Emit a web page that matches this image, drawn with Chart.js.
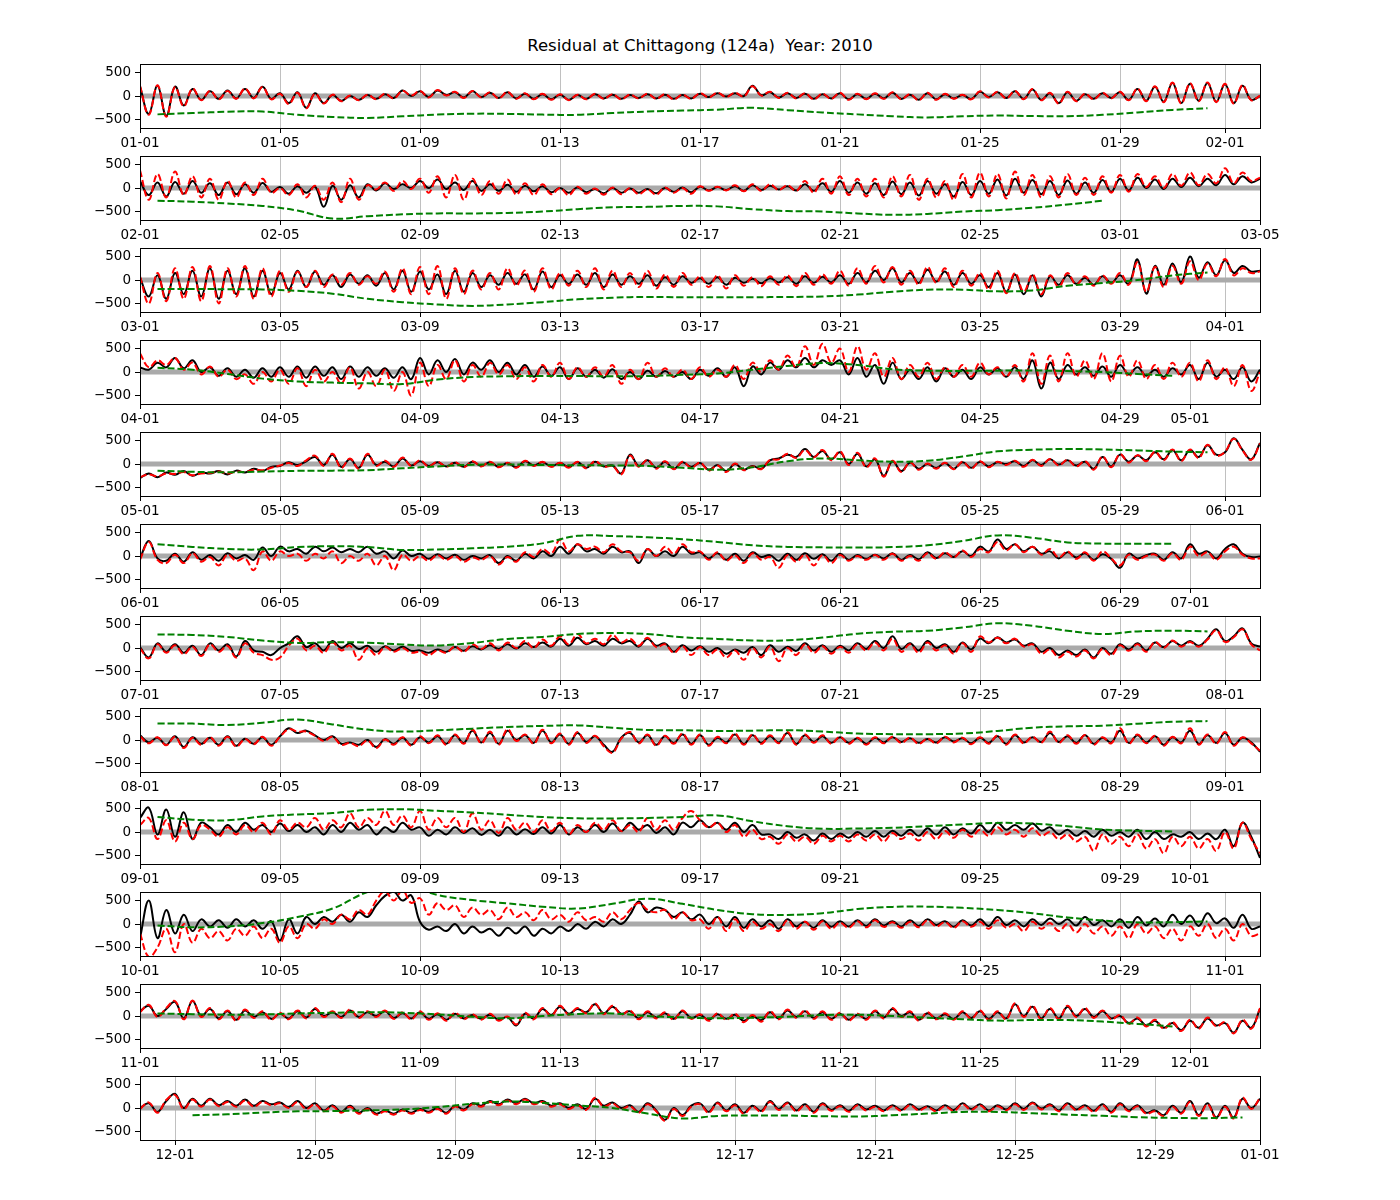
<!DOCTYPE html>
<html>
<head>
<meta charset="utf-8">
<script src="https://cdn.jsdelivr.net/npm/chart.js@4.4.1/dist/chart.umd.min.js"></script>
<style>
html,body{margin:0;padding:0;background:#fff;}
#fig{position:relative;width:1400px;height:1200px;background:#fff;overflow:hidden;}
#title{position:absolute;left:140px;width:1120px;top:36px;text-align:center;font-family:"DejaVu Sans",sans-serif;font-size:16.5px;color:#000;white-space:pre;line-height:20px;}
canvas{position:absolute;left:0;}
</style>
</head>
<body>
<div id="fig"><div id="title">Residual at Chittagong (124a)  Year: 2010</div></div>
<script>
// ---- panel start dates (each panel spans 32 days, samples every 6 hours) ----
const panelStarts = ["2010-01-01","2010-02-01","2010-03-01","2010-04-01","2010-05-01","2010-06-01","2010-07-01","2010-08-01","2010-09-01","2010-10-01","2010-11-01","2010-11-30"];
const tickDays = [1,5,9,13,17,21,25,29];
const yTickValues = [-500,0,500];
const yTickLabels = ["\u2212500","0","500"];
const greenStartDay = [0.5,0.5,0.5,0.5,0.5,0.5,0.5,0.5,0.5,0.5,0.5,1.5];

// ---- January ----
const janBlack = [200,-380,220,-420, 200,-200,150,-80, 100,-60,120,-50, 150,-40,200,-60, 60,-150,80,-250, 60,-150,20,-100, 0,-80,20,-60, 40,-40,120,0, 100,-20,120,20, 80,-30,100,-20, 70,-40,80,-50, 50,-60,40,-70, 30,-80,20,-60, 40,-50,30,-60, 20,-40,40,-50, 30,-60,20,-50, 50,-20,60,-10, 60,0,220,20, 80,-30,60,-40, 50,-60,40,-50, 60,-70,40,-60, 50,-50,70,-60, 30,-80,60,-70, 40,-50,20,-60, 90,-20,80,-40, 100,-60,140,-80, 60,-150,80,-100, 40,-60,60,-40, 80,-80,150,-100, 200,-120,280,-150, 260,-100,280,-120, 250,-150,220,-80, 0];
const janRed = [220,-400,230,-440, 190,-220,160,-90, 110,-70,110,-60, 160,-50,190,-70, 50,-170,70,-260, 50,-160,30,-110, 10,-90,30,-70, 50,-50,110,10, 110,-30,130,10, 90,-40,110,-30, 80,-50,90,-60, 60,-70,50,-80, 40,-90,30,-70, 50,-60,40,-70, 30,-50,50,-60, 40,-70,30,-60, 60,-30,70,-20, 70,-10,210,10, 90,-40,70,-50, 60,-70,50,-60, 70,-80,50,-70, 60,-60,80,-70, 40,-90,70,-80, 50,-60,30,-70, 100,-30,90,-50, 110,-70,150,-90, 70,-160,90,-110, 50,-70,70,-50, 90,-90,160,-110, 210,-130,290,-160, 270,-110,290,-130, 260,-160,230,-90, 10];
const janGreen = [-390,-360,-335,-330,-400,-445,-465,-430,-395,-375,-380,-395,-400,-360,-330,-310,-290,-250,-300,-350,-390,-430,-455,-430,-415,-425,-430,-400,-350,-295,-260];

// ---- February ----
const febBlack = [150,-150,120,-180, 130,-120,150,-100, 100,-150,120,-130, 80,-100,110,-80, 20,-120,40,-100, 30,-400,50,-250, 60,-200,80,-50, 100,-20,80,0, 150,0,180,-20, 120,-40,150,-60, 80,-60,70,-80, 50,-70,40,-90, 0,-100,10,-90, -20,-110,0,-100, -10,-100,-20,-110, 0,-80,10,-90, 30,-50,20,-40, 40,-60,60,-40, 50,-30,40,-50, 80,-60,100,-80, 150,-100,120,-120, 100,-150,140,-130, 120,-160,150,-120, 80,-180,130,-150, 150,-120,180,-160, 200,-100,170,-130, 150,-150,160,-120, 120,-100,170,-80, 200,-50,220,0, 180,-20,200,20, 220,40,200,60, 280,80,250,120, 200];
const febRed = [380,-250,300,-200, 350,-150,250,-200, 200,-250,150,-200, 120,-150,200,-100, 0,-150,80,-200, 50,-250,120,-300, 200,-250,60,-30, 120,-60,150,-20, 200,-100,250,-200, 280,-250,200,-150, 150,-120,180,-140, 100,-150,80,-130, 0,-150,30,-120, -10,-140,10,-130, 0,-130,-30,-140, 10,-100,0,-120, 40,-60,30,-50, 60,-70,80,-60, 80,-40,60,-60, 150,-100,200,-120, 250,-150,200,-180, 200,-200,250,-180, 280,-250,200,-200, 150,-250,300,-200, 330,-180,300,-220, 350,-150,280,-200, 250,-200,300,-150, 220,-150,250,-100, 280,-80,300,20, 250,0,300,50, 330,60,300,100, 420,100,330,150, 220];
const febGreen = [-270,-290,-330,-380,-480,-650,-600,-560,-540,-540,-530,-500,-450,-410,-400,-380,-390,-450,-490,-500,-540,-570,-550,-500,-470,-420,-350,-270];

// ---- March ----
const marBlack = [50,-350,100,-400, 150,-300,200,-350, 250,-400,200,-300, 250,-350,200,-300, 150,-200,200,-150, 180,-100,100,-150, 120,-80,100,-120, 150,-200,200,-250, 180,-200,120,-300, 200,-250,150,-150, 100,-100,150,-80, 120,-200,180,-150, 100,-80,120,-100, 150,-150,120,-100, 80,-80,100,-120, 60,-100,80,-60, 40,-80,60,-100, 50,-60,30,-70, 40,-50,60,-80, 80,-60,70,-50, 100,-80,150,-50, 200,0,250,-50, 150,-60,220,-30, 180,-100,150,-80, 100,-150,150,-250, 120,-300,100,-350, 80,-100,100,-80, 50,-100,80,-60, 100,-80,440,-290, 300,-100,350,-50, 500,50,380,100, 420,150,300,180, 200];
const marRed = [80,-500,150,-450, 250,-400,280,-450, 300,-500,250,-350, 300,-400,250,-350, 200,-250,180,-150, 200,-150,120,-100, 150,-100,80,-80, 180,-250,250,-300, 280,-300,300,-400, 250,-300,200,-200, 150,-200,250,-120, 200,-250,250,-200, 150,-120,200,-150, 250,-200,200,-150, 150,-150,200,-180, 120,-150,150,-100, 80,-150,100,-180, 100,-120,60,-130, 80,-100,100,-130, 150,-100,120,-80, 200,-120,250,-80, 300,-50,280,-100, 200,-100,280,-60, 250,-150,200,-120, 150,-200,200,-280, 150,-250,120,-300, 100,-150,150,-100, 80,-120,100,-80, 150,-100,380,-250, 280,-150,300,-80, 400,0,350,80, 450,100,250,150, 180];
const marGreen = [-190,-190,-195,-200,-230,-290,-400,-470,-520,-550,-520,-470,-410,-375,-360,-365,-365,-365,-360,-350,-310,-250,-205,-205,-240,-220,-120,-65,0,100,160];

// ---- April ----
const aprBlack = [100,50,200,100, 300,80,250,0, 100,-80,80,-100, 50,-120,80,-100, 100,-100,120,-120, 120,-80,100,-150, 120,-100,100,-80, 80,-120,100,-150, 300,-50,250,0, 280,-50,200,50, 250,0,200,-50, 150,-100,120,-80, 100,-150,80,-100, 50,-120,60,-150, 0,-150,30,-100, 20,-100,0,-150, 50,-80,80,-100, 100,-300,120,-50, 200,50,250,100, 300,100,250,150, 250,-50,300,-100, 150,-250,200,-150, 50,-150,100,-200, 80,-100,50,-150, 100,-50,80,-100, 100,-150,250,-350, 200,-150,150,-50, 100,-80,120,-100, 150,-50,100,-80, 50,-100,80,-50, 150,-150,200,-100, 50,-150,100,-200, 50];
const aprRed = [400,100,250,150, 300,50,200,-50, 120,-100,50,-150, -50,-250,0,-200, 50,-250,80,-300, 50,-200,0,-250, 100,-350,0,-300, 50,-400,0,-500, 200,-300,150,-150, 250,-200,150,-100, 200,-50,150,-150, 100,-200,150,-100, 200,-150,100,-100, 100,-100,150,-250, 50,-150,200,-100, 80,-100,50,-150, 100,-100,50,-100, 150,-150,200,0, 250,50,350,100, 550,150,600,200, 500,0,550,50, 400,-100,300,-150, 150,-100,200,-150, 100,-100,150,-100, 200,-50,100,-100, 150,-200,400,-250, 350,-200,400,-100, 250,-150,400,-200, 350,-100,250,-150, 150,-150,200,-100, 200,-200,250,-150, 100,-300,150,-400, 0];
const aprGreen = [90,50,-40,-140,-200,-225,-240,-255,-160,-105,-90,-85,-85,-90,-85,-60,-30,50,130,190,150,60,30,25,30,35,20,0,-40,-80];

// ---- May ----
const mayBlack = [-300,-200,-280,-180, -230,-150,-250,-180, -200,-150,-220,-140, -180,-100,-150,-60, -40,40,-20,60, 150,-20,200,-60, 100,-80,200,-20, 50,-50,120,-30, 60,-40,40,-50, 30,-60,50,-40, 40,-60,20,-70, 60,-30,40,-50, 20,-60,40,-80, 50,-50,-30,-200, 200,-40,80,-80, 50,-100,40,-60, 20,-120,-20,-150, 0,-120,-40,-100, 80,120,200,150, 320,150,280,100, 250,0,220,-50, 100,-250,60,-150, 30,-100,0,-80, 20,-100,40,-80, 50,-50,40,0, 60,-40,80,-20, 100,-10,80,-30, 50,-100,150,-50, 200,50,180,80, 250,100,300,80, 300,150,400,200, 250,550,300,100, 450];
const mayRed = [-280,-220,-260,-200, -210,-170,-240,-200, -190,-160,-200,-160, -170,-120,-130,-80, -30,20,-40,80, 180,-40,220,-80, 120,-100,220,-40, 70,-60,140,-40, 80,-50,50,-60, 40,-70,60,-50, 50,-70,30,-80, 70,-40,50,-60, 30,-80,50,-90, 60,-60,-40,-220, 180,-60,90,-100, 60,-110,50,-80, 30,-140,-30,-170, 10,-130,-50,-110, 90,100,220,130, 300,140,300,80, 270,-20,240,-70, 120,-270,70,-170, 40,-120,10,-100, 30,-110,50,-100, 60,-70,50,-20, 70,-60,90,-40, 110,-30,90,-50, 60,-120,160,-70, 210,30,190,60, 260,80,310,60, 310,130,410,180, 260,540,290,90, 440];
const mayGreen = [-140,-165,-175,-160,-145,-140,-130,-90,-50,-15,-10,-20,-25,-30,-40,-80,-120,-70,60,120,80,50,70,160,270,305,320,310,290,265,250];

// ---- June ----
const junBlack = [-50,320,-50,-100, 50,-120,80,-80, 20,-100,60,-50, 20,-80,180,0, 200,100,150,50, 200,100,180,80, 150,80,200,50, 100,-50,120,0, 50,-60,40,-50, 30,-80,0,-50, 20,-150,0,-100, 50,-50,100,0, 200,50,250,100, 150,50,200,80, 100,-150,150,0, 100,0,200,50, 80,-50,60,-80, 50,-100,80,-20, 20,-100,50,-80, 60,-60,40,-100, 50,-80,20,-60, 30,-50,60,-80, 20,-70,80,-40, 60,-20,100,0, 200,100,350,150, 250,100,200,50, 100,-50,80,-30, 60,-80,40,-60, -250,50,-50,20, 50,-80,80,-50, 250,50,100,-50, 150,250,50,-20, -10];
const junRed = [-80,300,-80,-150, 30,-150,60,-120, -20,-200,30,-100, -50,-300,100,-100, 100,0,50,-100, 50,-50,100,-150, 0,-100,50,-200, 0,-300,30,-100, 0,-100,20,-80, 0,-120,-30,-80, 0,-180,-20,-120, 80,-20,150,50, 350,100,250,150, 200,80,250,100, 80,-100,150,0, 200,50,250,80, 100,-80,80,-100, 20,-150,60,-80, -20,-250,20,-120, 30,-200,20,-150, 20,-100,0,-80, 20,-80,50,-100, 0,-100,60,-60, 80,-30,120,-20, 150,80,300,120, 250,80,200,30, 150,-30,100,-60, 80,-100,100,-50, -200,30,-80,0, 30,-100,60,-80, 200,0,80,-80, 100,200,30,-50, -50];
const junGreen = [250,195,150,140,190,210,190,130,140,165,200,270,430,425,400,360,300,230,195,185,180,190,230,320,440,390,290,265,262,262];

// ---- July ----
const julBlack = [20,-200,100,-80, 80,-100,50,-150, 100,-50,80,-180, 150,-50,-80,-150, 0,100,250,20, 100,-50,150,0, 100,-20,50,-80, 40,-50,30,-60, -50,-100,-30,-80, 20,-60,40,-30, 60,-20,80,-10, 100,20,120,30, 200,50,220,80, 150,50,200,100, 150,30,200,50, 100,-80,60,-50, 40,-80,0,-120, -30,-100,20,-150, 60,-80,30,-60, 100,-50,60,-80, 50,-50,100,-20, 150,0,250,-20, 100,-50,150,0, 80,-80,120,-30, 200,100,230,120, 180,50,100,-80, 0,-150,-50,-150, -30,-200,0,-120, 80,-30,100,-50, 120,20,150,50, 150,50,200,400, 150,250,420,100, 30];
const julRed = [0,-220,80,-100, 60,-130,30,-170, 80,-80,50,-200, 100,-100,-150,-250, -200,50,200,-50, 50,-100,120,-50, 50,-250,0,-150, 20,-80,0,-100, -80,-150,-50,-100, 30,-80,80,-20, 100,-50,120,0, 150,0,180,50, 250,80,300,100, 200,80,280,120, 200,50,220,20, 80,-100,40,-150, 20,-150,-30,-200, -50,-250,0,-200, 30,-280,0,-150, 80,-100,40,-120, 30,-100,80,-50, 120,-50,200,-80, 80,-100,120,-50, 60,-120,100,-80, 250,120,220,100, 200,30,80,-120, -30,-200,-80,-180, -50,-220,-20,-150, 60,-60,80,-80, 130,0,160,30, 130,30,180,380, 130,230,400,80, -50];
const julGreen = [290,278,236,160,110,125,115,76,55,110,194,236,300,320,300,230,195,160,165,222,305,347,368,437,528,472,368,300,354,368,354];

// ---- August ----
const augBlack = [100,-50,50,-100, 80,-150,60,-80, 50,-100,80,-120, 30,-80,60,-100, 80,250,150,200, 100,0,80,-80, -50,-100,0,-150, 20,-80,50,-100, 60,-50,80,-80, 100,-60,200,-50, 150,-80,200,0, 100,-60,200,-50, 120,-80,150,-40, 80,-100,-250,50, 150,-50,100,-100, 80,-60,120,-80, 100,-100,50,-50, 120,-80,100,-60, 80,-50,150,-80, 100,-40,80,-60, 60,-60,40,-80, 50,-50,60,-40, 40,-60,20,-50, 60,-30,40,-70, 50,-60,80,-80, 100,-50,60,-40, 150,-40,80,-60, 100,-80,50,-50, 200,-60,100,-50, 80,-100,60,-50, 200,-80,100,-60, 150,-100,50,-50, -250];
const augRed = [80,-70,60,-110, 70,-170,50,-100, 60,-120,70,-140, 20,-90,70,-120, 70,230,180,180, 90,-20,70,-100, -60,-130,-10,-170, 10,-100,60,-120, 80,-70,100,-100, 120,-80,220,-70, 180,-100,230,-20, 120,-80,220,-70, 140,-100,170,-60, 90,-130,-270,30, 170,-70,120,-120, 90,-80,140,-100, 120,-120,70,-70, 140,-100,120,-80, 100,-70,170,-100, 120,-60,100,-80, 70,-80,50,-100, 60,-70,70,-60, 50,-80,30,-70, 70,-50,50,-90, 60,-80,100,-100, 120,-70,70,-60, 180,-60,100,-80, 110,-100,60,-70, 250,-80,120,-70, 90,-120,70,-70, 250,-100,120,-80, 170,-120,60,-70, -230];
const augGreen = [354,350,320,368,437,333,222,180,208,243,278,300,312,264,215,210,194,200,210,180,139,125,125,139,194,264,292,305,347,389,403];

// ---- September ----
const sepBlack = [300,520,-50,480, -100,420,-150,200, 100,-50,150,0, 200,50,150,0, 180,20,150,0, 100,-50,150,0, 200,50,150,-50, 100,0,200,50, 100,-80,50,-50, 100,-20,80,-60, 50,-80,100,-50, 60,-40,100,-30, 150,-50,100,0, 150,0,180,20, 200,50,150,-20, 100,-50,200,100, 250,100,200,50, 200,0,150,-50, -50,-150,0,-120, -50,-180,-30,-150, -30,-120,0,-100, 20,-100,30,-80, 50,-80,80,-50, 100,-50,80,-30, 150,0,200,50, 150,50,180,30, 100,-50,50,-80, 20,-100,50,-80, 0,-100,50,-150, 0,-150,-50,-100, 0,-150,-30,-150, 50,-300,200,-100, -550];
const sepRed = [150,300,-150,250, -200,200,-150,150, 50,-100,100,-50, 150,0,200,-50, 250,50,200,100, 300,50,250,100, 400,100,300,150, 450,150,350,100, 450,50,300,100, 300,0,400,50, 250,-20,300,50, 200,0,250,20, 200,-50,150,0, 200,50,250,20, 150,0,300,50, 250,50,300,450, 250,100,200,0, 150,-100,50,-150, -100,-250,-50,-200, -100,-250,-80,-200, -80,-200,-50,-180, -50,-200,-20,-150, -30,-180,0,-150, 20,-120,50,-100, 50,-80,100,-50, 50,-100,80,-80, 0,-150,-50,-200, -100,-400,-50,-250, -100,-300,-50,-350, -150,-450,-100,-300, -100,-350,-150,-400, 0,-350,200,-150, -450];
const sepGreen = [320,264,250,333,375,403,472,486,451,417,368,320,292,290,300,320,354,229,125,70,75,90,125,160,195,180,125,55,28,14];

// ---- October ----
const octBlack = [-300,500,-300,300, -200,200,-150,100, -50,80,-80,100, -50,80,-100,60, -350,100,-200,150, 0,150,50,200, 50,250,150,400, 600,690,500,610, 50,-120,-50,-150, 0,-200,-50,-180, -100,-250,-80,-200, -50,-250,-100,-200, -50,-150,0,-100, 50,-50,100,0, 200,480,250,350, 300,150,250,100, 200,0,150,-50, 150,-80,100,-50, 80,-100,100,-50, 50,-80,80,-60, 60,-50,80,-40, 100,-30,60,-50, 80,-40,100,-20, 60,-60,80,-30, 100,-40,150,-20, 80,-50,100,-20, 120,0,100,-30, 150,-20,80,-50, 100,-80,150,-30, 120,-50,200,0, 180,-40,230,20, 120,-80,200,-100, -50];
const octRed = [-200,-700,-500,-100, -600,0,-400,-100, -300,-150,-350,-100, -250,-50,-300,-100, -400,-50,-300,0, -100,100,0,200, 100,300,200,500, 700,500,720,450, 550,200,450,300, 400,150,350,200, 300,100,350,150, 250,80,300,100, 200,50,250,80, 150,50,250,100, 300,450,300,250, 300,100,250,80, 100,-100,150,-150, 100,-150,50,-100, 0,-150,80,-100, 50,-120,60,-100, 30,-80,60,-70, 80,-60,40,-80, 50,-70,80,-50, 40,-80,60,-60, 50,-100,80,-80, 0,-150,50,-100, 20,-150,0,-180, 0,-200,-50,-250, -50,-300,0,-200, -50,-300,-100,-350, -50,-250,0,-300, -100,-350,0,-250, -200];
const octGreen = [-30,-70,-50,20,150,330,680,820,620,510,440,370,330,430,540,430,300,210,195,230,320,365,370,345,300,230,140,75,35,40,55];

// ---- November ----
const novBlack = [100,220,0,150, 300,-50,320,0, 150,-50,100,-80, 120,-20,80,-60, 50,-50,100,-30, 150,0,80,-20, 120,-20,80,0, 100,-40,60,-50, 80,-60,40,-80, 50,-50,20,-60, 30,-80,-20,-200, 50,-50,150,20, 200,50,150,80, 250,60,200,50, 100,-50,80,-30, 60,-60,100,-40, 20,-80,40,-60, 30,-100,0,-90, 80,-50,120,-20, 100,-40,80,-60, 50,-80,30,-60, 100,-30,150,0, 80,-80,60,-50, 40,-60,80,-40, 100,-60,80,-50, 250,0,200,-50, 150,-50,200,0, 150,-20,100,-50, 0,-150,-50,-200, -100,-250,-150,-300, -100,-250,-50,-200, -150,-350,-100,-250, 150];
const novRed = [80,240,-20,170, 320,-70,330,-20, 170,-70,120,-100, 140,-40,100,-80, 70,-70,120,-50, 170,-20,100,-40, 140,-40,100,-20, 120,-60,80,-70, 100,-80,60,-100, 70,-70,40,-80, 50,-100,-10,-180, 70,-70,170,0, 220,30,170,60, 270,40,220,30, 120,-70,100,-50, 80,-80,120,-60, 40,-100,60,-80, 50,-130,20,-120, 100,-70,140,-40, 120,-60,100,-80, 70,-100,50,-80, 120,-50,170,-20, 100,-100,80,-70, 60,-80,100,-60, 120,-80,100,-70, 270,-20,220,-70, 170,-70,220,-20, 170,-40,120,-70, 20,-170,-30,-220, -80,-270,-130,-320, -80,-270,-30,-220, -130,-370,-80,-270, 170];
const novGreen = [55,40,30,35,55,70,83,70,35,-14,-49,0,42,55,0,-28,-49,-35,-14,20,28,0,-35,-69,-97,-85,-85,-118,-167,-222];

// ---- December (panel starts 11-30) ----
const decBlack = [0,100,-80,150, 300,0,200,50, 200,60,150,50, 180,50,150,80, 120,20,150,0, 100,-50,60,-80, 50,-100,0,-120, -50,-120,-30,-100, -20,-80,0,-100, 50,-30,100,50, 150,80,180,100, 200,100,150,50, 100,0,80,-20, 200,50,120,0, 60,-80,100,-50, -250,0,-150,50, 100,-80,120,-50, 80,-100,50,-60, 150,-20,120,-50, 80,-80,100,-40, 60,-60,80,-30, 50,-50,60,-40, 80,-30,40,-50, 60,-40,100,-20, 80,-50,60,-30, 100,-20,120,-10, 80,-50,100,-30, 60,-60,80,-80, 100,-50,60,-100, -50,-150,50,-100, 150,-150,100,-200, 50,-200,200,0, 200];
const decRed = [-20,120,-100,170, 280,-20,180,30, 180,40,130,30, 160,30,130,60, 100,0,130,-20, 80,-70,40,-100, 30,-120,-20,-140, -70,-140,-50,-120, -40,-100,-20,-120, 30,-50,80,30, 130,60,160,80, 180,80,130,30, 80,-20,60,-40, 220,30,100,-20, 40,-100,80,-70, -270,-20,-170,30, 80,-100,100,-70, 60,-120,30,-80, 130,-40,100,-70, 60,-100,80,-60, 40,-80,60,-50, 30,-70,40,-60, 60,-50,20,-70, 40,-60,80,-40, 60,-70,40,-50, 80,-40,100,-30, 60,-70,80,-50, 40,-80,60,-100, 80,-70,40,-120, -70,-170,30,-120, 130,-170,80,-220, 30,-220,220,-20, 220];
const decGreen = [-153,-132,-97,-69,-65,-50,-30,20,90,139,110,55,0,-118,-222,-167,-160,-160,-174,-180,-153,-118,-83,-83,-110,-140,-165,-194,-210,-215,-200];

const blackSeries = [janBlack,febBlack,marBlack,aprBlack,mayBlack,junBlack,julBlack,augBlack,sepBlack,octBlack,novBlack,decBlack];
const redSeries = [janRed,febRed,marRed,aprRed,mayRed,junRed,julRed,augRed,sepRed,octRed,novRed,decRed];
const greenSeries = [janGreen,febGreen,marGreen,aprGreen,mayGreen,junGreen,julGreen,augGreen,sepGreen,octGreen,novGreen,decGreen];

// ---- layout ----
const FIG = document.getElementById('fig');
const AX_LEFT = 140, AX_RIGHT = 1260, AX_H = 68, FIRST_TOP = 60, STEP = 92, PAD_TOP = 8, XAX_H = 24;
const SPAN_DAYS = 32, STEP_DAYS = 0.25;
const FONT = {family: '"DejaVu Sans", sans-serif', size: 13.5};

const framePlugin = {
  id: 'frame',
  afterDraw(chart) {
    const a = chart.chartArea, ctx = chart.ctx;
    ctx.save();
    ctx.strokeStyle = '#000';
    ctx.lineWidth = 1;
    ctx.strokeRect(Math.round(a.left) + 0.5, Math.round(a.top) + 0.5, Math.round(a.right - a.left), Math.round(a.bottom - a.top));
    ctx.restore();
  }
};

function pad2(n){ return (n < 10 ? '0' : '') + n; }

function buildTicks(startStr) {
  const start = new Date(startStr + 'T00:00:00Z');
  const out = [];
  for (let d = 0; d <= SPAN_DAYS; d++) {
    const dt = new Date(start.getTime() + d * 86400000);
    if (tickDays.indexOf(dt.getUTCDate()) >= 0) {
      out.push({value: d, label: pad2(dt.getUTCMonth() + 1) + '-' + pad2(dt.getUTCDate())});
    }
  }
  return out;
}

panelStarts.forEach((startStr, p) => {
  const cv = document.createElement('canvas');
  const H = PAD_TOP + AX_H + XAX_H;
  cv.width = 1400; cv.height = H;
  cv.style.width = '1400px'; cv.style.height = H + 'px';
  cv.style.top = (FIRST_TOP + STEP * p - PAD_TOP) + 'px';
  FIG.appendChild(cv);

  const ticks = buildTicks(startStr);
  const black = blackSeries[p].map((v, i) => ({x: i * STEP_DAYS, y: v}));
  const red = redSeries[p].map((v, i) => ({x: i * STEP_DAYS, y: v}));
  const green = greenSeries[p].map((v, i) => ({x: greenStartDay[p] + i, y: v}));
  const zero = [{x: 0, y: 0}, {x: SPAN_DAYS, y: 0}];

  new Chart(cv, {
    type: 'line',
    data: {
      datasets: [
        {data: green, borderColor: '#008000', borderWidth: 2, borderDash: [7, 3], pointRadius: 0, tension: 0.4, fill: false, order: 0},
        {data: red, borderColor: '#ff0000', borderWidth: 2, borderDash: [7, 3], pointRadius: 0, tension: 0.4, fill: false, order: 1},
        {data: black, borderColor: '#000000', borderWidth: 2, pointRadius: 0, tension: 0.4, fill: false, order: 2},
        {data: zero, borderColor: '#aaaaaa', borderWidth: 5, pointRadius: 0, tension: 0, fill: false, order: 3}
      ]
    },
    options: {
      responsive: false,
      animation: false,
      devicePixelRatio: 1,
      events: [],
      layout: {autoPadding: false, padding: {left: 0, right: 1400 - AX_RIGHT, top: PAD_TOP, bottom: 0}},
      plugins: {legend: {display: false}, tooltip: {enabled: false}, title: {display: false}},
      scales: {
        x: {
          type: 'linear', min: 0, max: SPAN_DAYS,
          border: {display: false},
          grid: {display: true, drawOnChartArea: true, color: '#b0b0b0', lineWidth: 0.8, tickColor: '#000', tickLength: 5, tickWidth: 1},
          afterBuildTicks(scale) { scale.ticks = ticks.map(t => ({value: t.value})); },
          afterFit(scale) { scale.height = XAX_H; },
          ticks: {
            autoSkip: false, maxRotation: 0, minRotation: 0, padding: 2, color: '#000', font: FONT,
            callback(value) { const t = ticks.find(k => k.value === value); return t ? t.label : ''; }
          }
        },
        y: {
          type: 'linear', min: -680, max: 680,
          border: {display: false},
          grid: {display: true, drawOnChartArea: false, color: '#000', tickColor: '#000', tickLength: 5, tickWidth: 1},
          afterBuildTicks(scale) { scale.ticks = yTickValues.map(v => ({value: v})); },
          afterFit(scale) { scale.width = AX_LEFT; },
          ticks: {
            padding: 4, color: '#000', font: FONT,
            callback(value) { const i = yTickValues.indexOf(value); return i >= 0 ? yTickLabels[i] : ''; }
          }
        }
      }
    },
    plugins: [framePlugin]
  });
});
</script>
</body>
</html>
